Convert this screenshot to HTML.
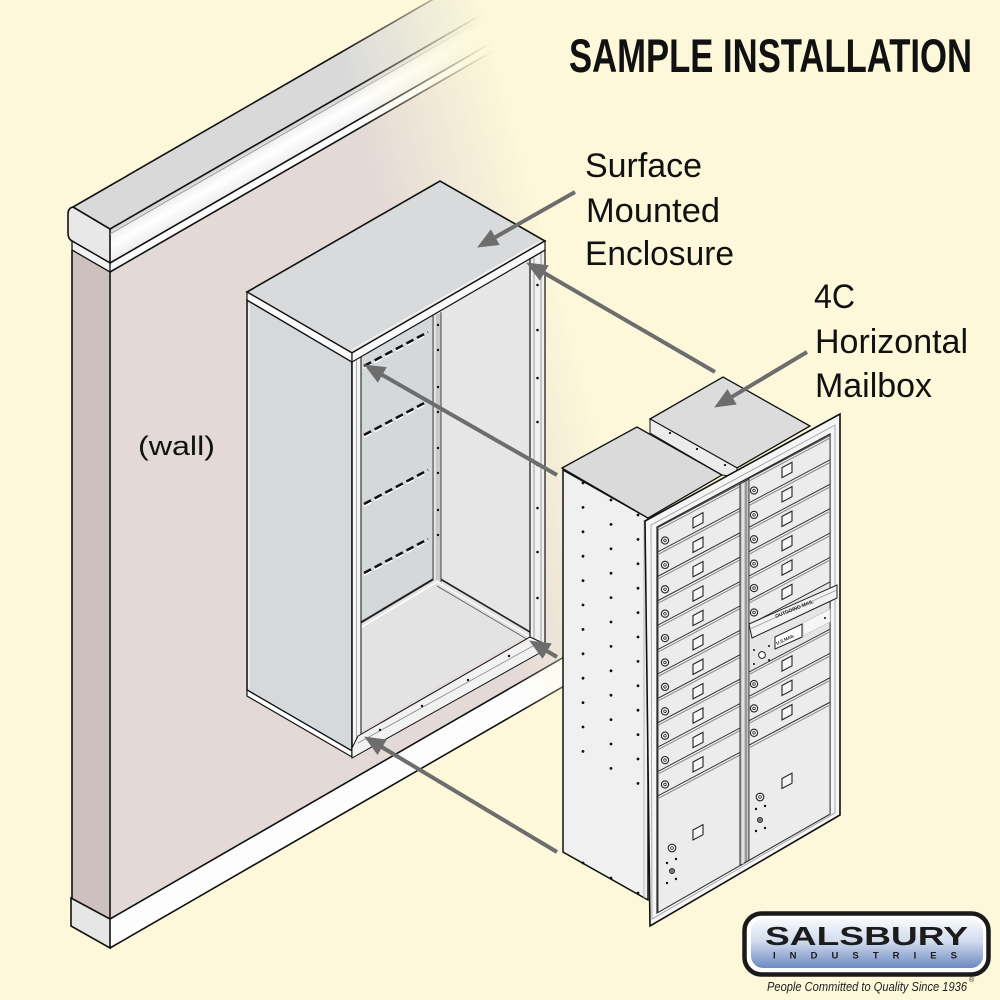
<!DOCTYPE html>
<html><head><meta charset="utf-8"><style>
html,body{margin:0;padding:0;background:#fdf8d9;}
svg{display:block;}
</style></head><body>
<svg width="1000" height="1000" viewBox="0 0 1000 1000" xmlns="http://www.w3.org/2000/svg">
<defs>
<linearGradient id="fg" gradientUnits="userSpaceOnUse" x1="380" y1="200" x2="524.6" y2="160.1">
<stop offset="0" stop-color="#fff"/><stop offset="1" stop-color="#000"/></linearGradient>
<mask id="fade" maskUnits="userSpaceOnUse" x="-10" y="-200" width="1020" height="1300">
<rect x="-10" y="-200" width="1020" height="1300" fill="url(#fg)"/></mask>
<linearGradient id="capg" gradientUnits="userSpaceOnUse" x1="110" y1="229" x2="124.7" y2="254.5">
<stop offset="0" stop-color="#c8c8c8"/><stop offset="0.18" stop-color="#f0f0f0"/><stop offset="0.5" stop-color="#ffffff"/><stop offset="1" stop-color="#ededed"/></linearGradient>
<linearGradient id="lg" x1="0" y1="0" x2="0" y2="1">
<stop offset="0" stop-color="#f7f9fd"/><stop offset="0.45" stop-color="#d2dcee"/><stop offset="1" stop-color="#6c89c2"/></linearGradient>
<marker id="ah" markerUnits="userSpaceOnUse" markerWidth="22" markerHeight="18" refX="8" refY="9" orient="auto" viewBox="0 0 22 18">
<path d="M0,0 L21,9 L0,18 Z" fill="#6d6d6d"/></marker>
<g id="dL">
<polygon points="0,0 82,-43.5 82,-19.1 0,24.4" fill="#ececec" stroke="#333" stroke-width="0.9"/>
<line x1="0" y1="2.6" x2="82" y2="-40.9" stroke="#8a8a8a" stroke-width="1"/>
<circle cx="7" cy="13" r="3.6" fill="#fff" stroke="#222" stroke-width="1.1"/>
<circle cx="7" cy="13" r="1.3" fill="none" stroke="#222" stroke-width="0.8"/>
<polygon points="35,-9.5 45,-14.8 45,-4.8 35,0.5" fill="#f6f6f6" stroke="#222" stroke-width="1.1"/>
</g>
<g id="dR">
<polygon points="0,0 81,-43 81,-18.6 0,24.4" fill="#ececec" stroke="#333" stroke-width="0.9"/>
<line x1="0" y1="2.6" x2="81" y2="-40.4" stroke="#8a8a8a" stroke-width="1"/>
<circle cx="5" cy="12" r="3.6" fill="#fff" stroke="#222" stroke-width="1.1"/>
<circle cx="5" cy="12" r="1.3" fill="none" stroke="#222" stroke-width="0.8"/>
<polygon points="33,-10.9 43,-16.2 43,-6.2 33,-0.9" fill="#f6f6f6" stroke="#222" stroke-width="1.1"/>
</g>
<g id="dcol" fill="#111">
<circle cx="0" cy="0" r="1.4"/><circle cx="0" cy="24.4" r="1.4"/><circle cx="0" cy="48.8" r="1.4"/><circle cx="0" cy="73.2" r="1.4"/>
<circle cx="0" cy="97.6" r="1.4"/><circle cx="0" cy="122" r="1.4"/><circle cx="0" cy="146.4" r="1.4"/><circle cx="0" cy="170.8" r="1.4"/>
<circle cx="0" cy="195.2" r="1.4"/><circle cx="0" cy="219.6" r="1.4"/><circle cx="0" cy="244" r="1.4"/><circle cx="0" cy="268.4" r="1.4"/>
</g>
</defs>

<rect width="1000" height="1000" fill="#fdf8d9"/>

<!-- WALL -->
<g mask="url(#fade)">
<polygon points="110,272 700,-68.4 700,578.6 110,919" fill="#e3d9d6"/>
<polygon points="72,250 110,272 110,919 72,898" fill="#cdc1bf"/>
<polygon points="73,207 110,229 700,-111.4 663,-133.4" fill="#d9d9d9"/>
<polygon points="110,229 700,-111.4 700,-77.4 110,263" fill="url(#capg)"/>
<polygon points="110,263 700,-77.4 700,-68.4 110,272" fill="#fbfbfb"/>
<path d="M73,207 L110,229 L110,263 L72,241 Q68,239 68,233 L68,214 Q68,208 73,207 Z" fill="#e8e8e8" stroke="#111" stroke-width="1.6"/>
<polygon points="72,241 110,263 110,272 72,250" fill="#f2f2f2" stroke="#111" stroke-width="1.3"/>
<polygon points="110,919 700,578.6 700,607.6 110,948" fill="#fdfdfd"/>
<polygon points="71,898 110,919 110,948 71,926" fill="#e6e6e6" stroke="#111" stroke-width="1.6"/>
<g stroke="#111" stroke-width="1.6" fill="none">
<path d="M73,207 L663,-133.4"/>
<path d="M110,229 L700,-111.4"/>
<path d="M110,263 L700,-77.4"/>
<path d="M110,272 L700,-68.4"/>
<path d="M110,919 L700,578.6"/>
<path d="M110,948 L700,607.6"/>
<path d="M72,250 L72,898"/>
<path d="M110,272 L110,919"/>
</g>
<path d="M110,234 L700,-106.4" stroke="#9a9a9a" stroke-width="1" fill="none"/>
</g>

<text x="138" y="455" font-family="'Liberation Sans',sans-serif" font-size="27" fill="#111" textLength="77" lengthAdjust="spacingAndGlyphs">(wall)</text>

<!-- ENCLOSURE -->
<polygon points="247,300 352,362 352,751 247,690" fill="#d5d9dc" stroke="#111" stroke-width="1.5"/>
<line x1="249" y1="304" x2="249" y2="688" stroke="#fff" stroke-width="1"/>
<polygon points="247,690 352,751 352,757 247,696" fill="#fff" stroke="#111" stroke-width="1.2"/>
<polygon points="360,357 437,313 437,578 360,624" fill="#d4d8db"/>
<polygon points="437,313 530,259 530,634 437,578" fill="#e6e6e6"/>
<polygon points="360,624 437,578 530,634 360,732" fill="#e3e3e3"/>
<path d="M360,623 L437,577" stroke="#222" stroke-width="2" fill="none"/>
<path d="M360,628 L437,582" stroke="#fff" stroke-width="1.5" fill="none"/>
<path d="M437,577 L530,632" stroke="#222" stroke-width="1.6" fill="none"/>
<path d="M437,582 L530,637" stroke="#fff" stroke-width="1.2" fill="none"/>
<path d="M437,586 L530,641" stroke="#555" stroke-width="0.8" fill="none"/>
<!-- middle channel -->
<rect x="433" y="314" width="8" height="266" fill="#c9c9c9"/>
<g stroke-width="0.9" fill="none">
<line x1="433" y1="314" x2="433" y2="580" stroke="#333"/>
<line x1="435" y1="314" x2="435" y2="580" stroke="#fff"/>
<line x1="441" y1="312" x2="441" y2="582" stroke="#333"/>
</g>
<g fill="#111">
<circle cx="438" cy="325" r="1.2"/><circle cx="438" cy="350" r="1.2"/><circle cx="438" cy="387" r="1.2"/><circle cx="438" cy="412" r="1.2"/>
<circle cx="438" cy="448" r="1.2"/><circle cx="438" cy="473" r="1.2"/><circle cx="438" cy="510" r="1.2"/><circle cx="438" cy="535" r="1.2"/>
</g>
<!-- dashes -->
<g fill="none">
<path d="M364,368 L428,334" stroke="#fff" stroke-width="2" stroke-dasharray="8 4"/>
<path d="M364,366 L428,332" stroke="#111" stroke-width="2.6" stroke-dasharray="8 4"/>
<path d="M364,437 L428,403" stroke="#fff" stroke-width="2" stroke-dasharray="8 4"/>
<path d="M364,435 L428,401" stroke="#111" stroke-width="2.6" stroke-dasharray="8 4"/>
<path d="M364,506 L428,472" stroke="#fff" stroke-width="2" stroke-dasharray="8 4"/>
<path d="M364,504 L428,470" stroke="#111" stroke-width="2.6" stroke-dasharray="8 4"/>
<path d="M364,575 L428,541" stroke="#fff" stroke-width="2" stroke-dasharray="8 4"/>
<path d="M364,573 L428,539" stroke="#111" stroke-width="2.6" stroke-dasharray="8 4"/>
</g>
<!-- right post -->
<polygon points="530,259 545,250 545,648 530,640" fill="#f0f0f0" stroke="#111" stroke-width="1.2"/>
<line x1="534" y1="258" x2="534" y2="641" stroke="#888" stroke-width="0.8"/>
<line x1="541" y1="253" x2="541" y2="645" stroke="#888" stroke-width="0.8"/>
<g fill="#111">
<circle cx="537.5" cy="285" r="1.3"/><circle cx="537.5" cy="330" r="1.3"/><circle cx="537.5" cy="378" r="1.3"/><circle cx="537.5" cy="422" r="1.3"/>
<circle cx="537.5" cy="465" r="1.3"/><circle cx="537.5" cy="508" r="1.3"/><circle cx="537.5" cy="552" r="1.3"/><circle cx="537.5" cy="598" r="1.3"/>
</g>
<!-- left post -->
<rect x="352" y="356" width="9" height="395" fill="#f5f5f5"/>
<line x1="352" y1="356" x2="352" y2="756" stroke="#111" stroke-width="1.5"/>
<line x1="356.5" y1="360" x2="356.5" y2="748" stroke="#999" stroke-width="0.8"/>
<line x1="361" y1="357" x2="361" y2="736" stroke="#111" stroke-width="1"/>
<!-- bottom flange -->
<polygon points="358,736 530,637 545,644 545,650 352,758 352,748" fill="#f2f2f2" stroke="#111" stroke-width="1"/>
<path d="M358,743 L542,641" stroke="#888" stroke-width="0.8" fill="none"/>
<g fill="#111"><circle cx="380" cy="730" r="1.2"/><circle cx="422" cy="706" r="1.2"/><circle cx="468" cy="680" r="1.2"/><circle cx="509" cy="656" r="1.2"/></g>
<!-- lid -->
<polygon points="247,292 440,181 545,241 352,353" fill="#d8dadb" stroke="#111" stroke-width="1.6"/>
<path d="M352,350 L541,241" stroke="#fff" stroke-width="1" fill="none"/>
<polygon points="247,292 352,353 352,362 247,300" fill="#fafafa" stroke="#111" stroke-width="1.2"/>
<polygon points="352,353 545,241 545,250 352,362" fill="#fafafa" stroke="#111" stroke-width="1.2"/>

<!-- ARROWS behind mailbox -->
<g stroke="#6d6d6d" stroke-width="4" fill="none" marker-end="url(#ah)">
<line x1="575" y1="192" x2="488.4" y2="241.1"/>
<line x1="715" y1="372" x2="537.4" y2="269"/>
<line x1="557" y1="475" x2="375.4" y2="371"/>
<line x1="557" y1="657" x2="540.3" y2="647.1"/>
<line x1="557" y1="852" x2="375.3" y2="743.2"/>
</g>

<!-- MAILBOX -->
<polygon points="563,470 648,518 648,900 563,852" fill="#f0f0f0" stroke="#111" stroke-width="1.5"/>
<line x1="644" y1="520" x2="644" y2="898" stroke="#aaa" stroke-width="0.8"/>
<use href="#dcol" x="583" y="483"/>
<use href="#dcol" x="611" y="500"/>
<use href="#dcol" x="638" y="515"/>
<g fill="#111"><circle cx="583" cy="863" r="1.4"/><circle cx="611" cy="878" r="1.4"/><circle cx="638" cy="893" r="1.4"/></g>
<!-- rear block -->
<polygon points="650,419 723,377 810,426 737,468" fill="#dcdcdc" stroke="#111" stroke-width="1.3"/>
<polygon points="650,419 737,468 737,477 722,475 650,433" fill="#ececec" stroke="#111" stroke-width="1"/>
<g fill="#111"><circle cx="670" cy="433" r="1.1"/><circle cx="697" cy="449" r="1.1"/><circle cx="725" cy="465" r="1.1"/></g>
<!-- left top block -->
<polygon points="562,468 637,427 722,475 648,518" fill="#dadada" stroke="#111" stroke-width="1.3"/>
<!-- frame -->
<polygon points="645,521 840,414 840,815 650,926" fill="#f5f5f5" stroke="#111" stroke-width="1.6"/>
<path d="M651,525 L835,425 L835,813 L652,919 Z" fill="none" stroke="#999" stroke-width="0.8"/>
<polygon points="657,527 830,434 830,814 657,913" fill="#d8d8d8" stroke="#222" stroke-width="1.2"/>
<!-- left column doors -->
<g transform="translate(658,527.5)">
<use href="#dL" y="0"/><use href="#dL" y="24.4"/><use href="#dL" y="48.8"/><use href="#dL" y="73.2"/>
<use href="#dL" y="97.6"/><use href="#dL" y="122"/><use href="#dL" y="146.4"/><use href="#dL" y="170.8"/>
<use href="#dL" y="195.2"/><use href="#dL" y="219.6"/><use href="#dL" y="244"/>
</g>
<!-- left parcel -->
<polygon points="658,795.9 740,752.4 740,865.5 658,912.4" fill="#ececec" stroke="#333" stroke-width="0.9"/>
<line x1="658" y1="798.5" x2="740" y2="755" stroke="#8a8a8a" stroke-width="1"/>
<polygon points="693,830 703,824.7 703,834.7 693,840" fill="#f6f6f6" stroke="#222" stroke-width="1.1"/>
<circle cx="672" cy="848" r="3.8" fill="#fff" stroke="#222" stroke-width="1.1"/>
<circle cx="672" cy="848" r="1.4" fill="none" stroke="#222" stroke-width="0.8"/>
<circle cx="672" cy="871" r="2.6" fill="#777" stroke="#222" stroke-width="0.8"/>
<g fill="#111"><circle cx="667" cy="863" r="1.2"/><circle cx="676" cy="859" r="1.2"/><circle cx="667" cy="883" r="1.2"/><circle cx="676" cy="879" r="1.2"/></g>
<!-- divider -->
<polygon points="740,484 749,479 749,860.3 740,865.5" fill="#c4c4c4" stroke="#222" stroke-width="1"/>
<line x1="743" y1="483" x2="743" y2="864" stroke="#fff" stroke-width="1"/>
<line x1="746" y1="481" x2="746" y2="862" stroke="#555" stroke-width="0.8"/>
<!-- right column doors -->
<g transform="translate(749,478.5)">
<use href="#dR" y="0"/><use href="#dR" y="24.4"/><use href="#dR" y="48.8"/><use href="#dR" y="73.2"/>
<use href="#dR" y="97.6"/><use href="#dR" y="122"/>
<use href="#dR" y="193.5"/><use href="#dR" y="217.9"/><use href="#dR" y="242.3"/>
</g>
<!-- master panel -->
<polygon points="749,624.9 830,582 830,629.2 749,672" fill="#e6e6e6" stroke="#333" stroke-width="0.9"/>
<polygon points="803,623 830,609 830,622 803,636" fill="#f6f6f6" stroke="#bbb" stroke-width="0.6"/>
<polygon points="775,637 802,624 802,637 775,649" fill="#fff" stroke="#222" stroke-width="1"/>
<text x="0" y="0" transform="translate(777,645) rotate(-25)" font-family="'Liberation Sans',sans-serif" font-size="4.5" font-weight="bold" fill="#222">U.S.MAIL</text>
<circle cx="762" cy="655" r="3.4" fill="#fff" stroke="#222" stroke-width="1"/>
<g fill="#111"><circle cx="754" cy="650" r="1"/><circle cx="769" cy="646" r="1"/><circle cx="754" cy="664" r="1"/><circle cx="769" cy="660" r="1"/><circle cx="825" cy="596" r="1"/><circle cx="825" cy="618" r="1"/></g>
<polygon points="749,624 837,585 837,598 752,638" fill="#f2f2f2" stroke="#222" stroke-width="1"/>
<line x1="750" y1="629" x2="837" y2="590" stroke="#999" stroke-width="0.8"/>
<text x="0" y="0" transform="translate(776,618) rotate(-22)" font-family="'Liberation Sans',sans-serif" font-size="5" font-weight="bold" fill="#222">OUTGOING MAIL</text>
<!-- right parcel -->
<polygon points="749,745.2 830,702.3 830,814 749,860.3" fill="#ececec" stroke="#333" stroke-width="0.9"/>
<line x1="749" y1="747.8" x2="830" y2="704.9" stroke="#8a8a8a" stroke-width="1"/>
<polygon points="782,778.5 792,773.2 792,783.2 782,788.5" fill="#f6f6f6" stroke="#222" stroke-width="1.1"/>
<circle cx="760" cy="797" r="3.8" fill="#fff" stroke="#222" stroke-width="1.1"/>
<circle cx="760" cy="797" r="1.4" fill="none" stroke="#222" stroke-width="0.8"/>
<circle cx="760" cy="820" r="2.6" fill="#777" stroke="#222" stroke-width="0.8"/>
<g fill="#111"><circle cx="756" cy="809" r="1.2"/><circle cx="765" cy="806" r="1.2"/><circle cx="756" cy="831" r="1.2"/><circle cx="765" cy="828" r="1.2"/></g>

<!-- label arrow -->
<line x1="807" y1="352" x2="725.3" y2="400.8" stroke="#6d6d6d" stroke-width="4" marker-end="url(#ah)"/>

<!-- TEXT -->
<text x="569" y="72" font-family="'Liberation Sans Narrow','Liberation Sans',sans-serif" font-weight="bold" font-size="47" fill="#111" textLength="403" lengthAdjust="spacingAndGlyphs">SAMPLE INSTALLATION</text>
<g font-family="'Liberation Sans Narrow','Liberation Sans',sans-serif" font-size="34" fill="#111">
<text x="585" y="177" textLength="117" lengthAdjust="spacingAndGlyphs">Surface</text>
<text x="586" y="222" textLength="134" lengthAdjust="spacingAndGlyphs">Mounted</text>
<text x="585" y="265" textLength="149" lengthAdjust="spacingAndGlyphs">Enclosure</text>
<text x="814" y="308" textLength="41" lengthAdjust="spacingAndGlyphs">4C</text>
<text x="815" y="353" textLength="153" lengthAdjust="spacingAndGlyphs">Horizontal</text>
<text x="815" y="397" textLength="117" lengthAdjust="spacingAndGlyphs">Mailbox</text>
</g>

<!-- LOGO -->
<rect x="744.5" y="913.5" width="244" height="61" rx="17" fill="#fff" stroke="#1a1a1a" stroke-width="4.5"/>
<rect x="751" y="919" width="232" height="49" rx="12" fill="url(#lg)"/>
<text x="765" y="945" font-family="'Liberation Sans',sans-serif" font-weight="bold" font-size="25.5" fill="#1c1c1c" textLength="203" lengthAdjust="spacingAndGlyphs">SALSBURY</text>
<text x="773" y="958.5" font-family="'Liberation Sans',sans-serif" font-weight="bold" font-size="9.5" fill="#1c1c1c" textLength="184" lengthAdjust="spacing">INDUSTRIES</text>
<text x="767" y="991" font-family="'Liberation Sans Narrow','Liberation Sans',sans-serif" font-style="italic" font-size="12.5" fill="#222" textLength="200" lengthAdjust="spacingAndGlyphs">People Committed to Quality Since 1936</text>
<text x="969" y="982" font-family="'Liberation Sans',sans-serif" font-size="7" fill="#222">®</text>
</svg>
</body></html>
